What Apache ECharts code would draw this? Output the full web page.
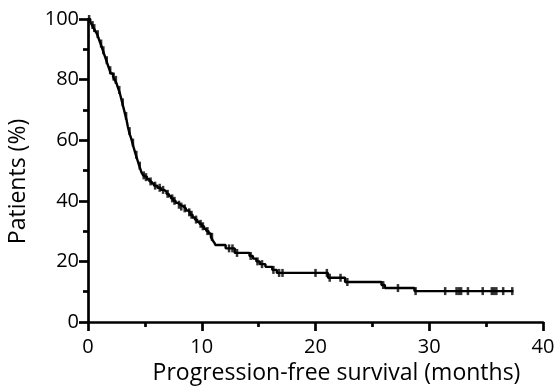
<!DOCTYPE html>
<html>
<head>
<meta charset="utf-8">
<script src="https://cdn.jsdelivr.net/npm/echarts@6/dist/echarts.min.js"></script>
<style>
  html, body { margin: 0; padding: 0; background: #fff; }
  #chart { width: 558px; height: 387px; }
</style>
</head>
<body>
<div id="chart"></div>
<script>
// Kaplan-Meier steps: time of event (months) and survival after it (%)
const eventTimes = [0, 0.2, 0.35, 0.5, 0.65, 0.8, 0.9, 1.0, 1.1, 1.2, 1.3, 1.4, 1.5, 1.6, 1.7, 1.8, 1.9, 2.0,
  2.2, 2.35, 2.5, 2.6, 2.7, 2.8, 2.9, 3.0, 3.1, 3.2, 3.3, 3.4, 3.5, 3.6, 3.7, 3.8, 3.9, 4.0, 4.1, 4.2, 4.3,
  4.4, 4.5, 4.6, 4.7, 4.85, 5.0, 5.2, 5.4, 5.6, 5.8, 6.1, 6.4, 6.7, 6.9, 7.1, 7.3, 7.5, 7.7, 7.9, 8.1, 8.4,
  8.6, 8.8, 9.0, 9.2, 9.4, 9.6, 9.8, 10.0, 10.2, 10.4, 10.6, 10.8, 10.95, 11.1, 11.2, 12.1, 12.9, 14.2,
  14.5, 14.8, 15.1, 15.6, 16.2, 16.6, 21.1, 22.6, 25.8, 26.1, 28.7];
const survival = [100, 99, 98, 97, 96, 95, 94, 92.9, 91.9, 90.8, 89.7, 88.6, 87.5, 86.4, 85.3, 84.2, 83.1, 82,
  81, 79.9, 78.8, 77.7, 76.6, 75.5, 74, 72.5, 71, 69.5, 68, 66.5, 64.5, 63, 61.7, 60.5, 59.2, 57.8, 56.5, 55.2, 54,
  52.8, 51.6, 50.5, 49.4, 48.4, 47.8, 47.1, 46.4, 45.7, 45, 44.3, 43.6, 43, 42.3, 41.6, 40.8, 40, 39.3, 38.7, 38.1, 37.5,
  36.8, 36.2, 35.4, 34.5, 33.8, 33.1, 32.4, 31.6, 30.8, 30, 29.2, 28.1, 27, 26.2, 25.4, 24.3, 22.8, 21.8,
  20.9, 20, 19.1, 18.2, 17.2, 16.2, 14.6, 13.2, 12.2, 11.2, 10.2];
// censored observations (months)
const censorTimes = [0.1, 0.4, 0.55, 0.85, 1.15, 1.35, 1.65, 1.95, 2.25, 2.45, 2.75, 3.05, 3.35, 3.65, 3.95,
  4.25, 4.55, 4.9, 5.1, 5.5, 5.9, 6.3, 6.6, 7.0, 7.4, 7.6, 8.0, 8.2, 8.5, 8.9, 9.1, 9.5, 9.9, 10.1, 10.5, 10.9,
  12.4, 12.7, 13.1, 14.3, 14.9, 15.3, 16.3, 16.8, 17.1, 20.0, 21.0, 21.25, 22.2, 22.8, 25.95, 27.25, 28.8,
  31.4, 32.4, 32.6, 32.8, 33.4, 34.7, 35.5, 35.7, 35.9, 36.5, 37.3];
const lastFollowUp = 37.4;

const xTicks = { min: 0, max: 40, interval: 10 };
const yTicks = { min: 0, max: 100, interval: 20 };

function levelAt(t) {
  let v = survival[0];
  for (let i = 0; i < eventTimes.length; i++) {
    if (eventTimes[i] <= t) v = survival[i];
  }
  return v;
}

const curve = eventTimes.map((t, i) => [t, survival[i]]);
curve.push([lastFollowUp, levelAt(lastFollowUp)]);
const censored = censorTimes.map(t => [t, levelAt(t)]);

const font = '"Open Sans", "DejaVu Sans", sans-serif';
const axisCommon = {
  type: 'value',
  axisLine: { show: true, lineStyle: { color: '#000', width: 2.7 } },
  axisTick: { show: true, length: 9, lineStyle: { color: '#000', width: 2.7 } },
  minorTick: { show: true, splitNumber: 2, length: 5, lineStyle: { color: '#000', width: 2.7 } },
  splitLine: { show: false },
  minorSplitLine: { show: false },
  axisLabel: { color: '#000', fontSize: 20, fontFamily: font },
  nameLocation: 'middle',
  nameTextStyle: { color: '#000', fontSize: 23, fontFamily: font }
};

const myChart = echarts.init(document.getElementById('chart'));
myChart.setOption({
  animation: false,
  grid: { left: 88, right: 15, top: 19, bottom: 65, outerBoundsMode: 'none', containLabel: false },
  xAxis: Object.assign({}, axisCommon, {
    min: xTicks.min, max: xTicks.max, interval: xTicks.interval,
    name: 'Progression-free survival (months)',
    nameGap: 39,
    axisLabel: Object.assign({}, axisCommon.axisLabel, { margin: 15 }),
    nameTextStyle: Object.assign({}, axisCommon.nameTextStyle, { padding: [0, 0, 0, 42] })
  }),
  yAxis: Object.assign({}, axisCommon, {
    min: yTicks.min, max: yTicks.max, interval: yTicks.interval,
    name: 'Patients (%)',
    nameGap: 58,
    axisLabel: Object.assign({}, axisCommon.axisLabel, { margin: 9 }),
    nameTextStyle: Object.assign({}, axisCommon.nameTextStyle, { padding: [0, 22, 0, 0] })
  }),
  series: [
    {
      type: 'line',
      step: 'end',
      data: curve,
      symbol: 'none',
      lineStyle: { color: '#000', width: 2.4 }
    },
    {
      type: 'scatter',
      data: censored,
      symbol: 'rect',
      symbolSize: [2.5, 8],
      itemStyle: { color: '#000' }
    }
  ]
});
</script>
</body>
</html>
